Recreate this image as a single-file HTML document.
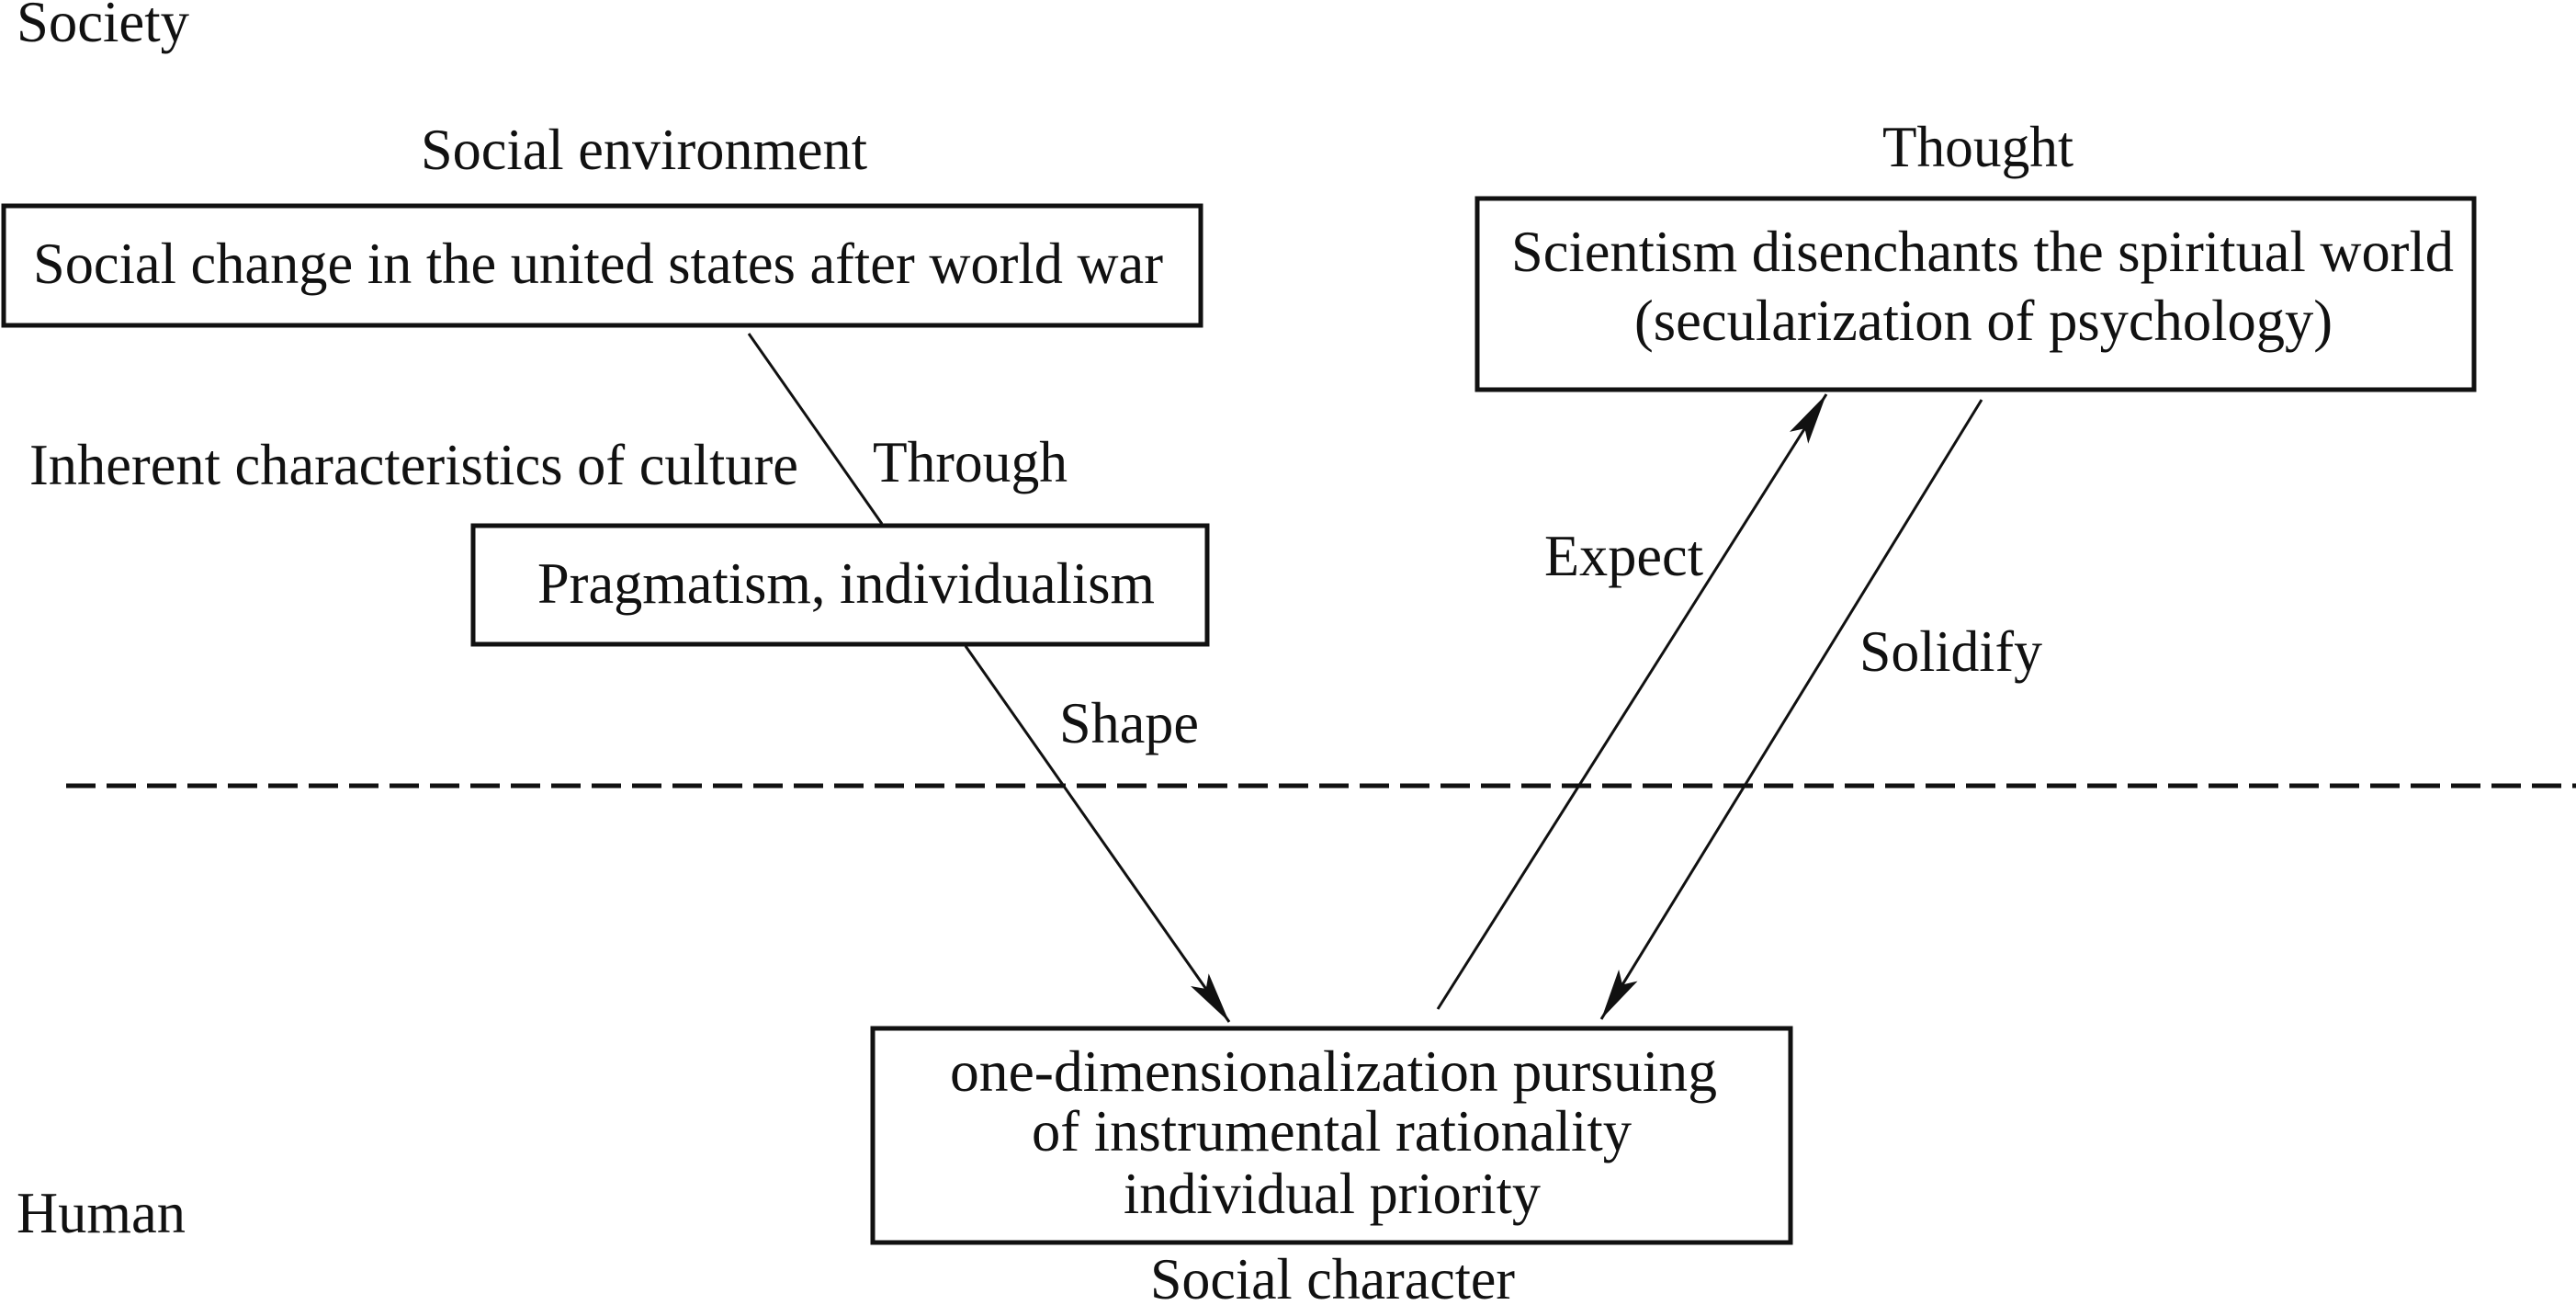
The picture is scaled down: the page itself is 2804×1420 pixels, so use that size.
<!DOCTYPE html>
<html><head><meta charset="utf-8"><style>
html,body{margin:0;padding:0;background:#fff;width:2804px;height:1420px;overflow:hidden}
text{font-family:"Liberation Serif",serif;font-size:64px;fill:#111}
</style></head><body>
<svg width="2804" height="1420" viewBox="0 0 2804 1420" xmlns="http://www.w3.org/2000/svg">
<defs>
<marker id="a" markerWidth="60" markerHeight="26" refX="56" refY="12" orient="auto" markerUnits="userSpaceOnUse">
<path d="M0,0 L56,12 L0,24 L12,12 Z" fill="#111"/>
</marker>
</defs>
<g fill="none" stroke="#111">
<rect x="4" y="224" width="1303" height="130" stroke-width="5"/>
<rect x="1608" y="216" width="1085" height="208" stroke-width="5"/>
<rect x="515" y="572" width="799" height="129" stroke-width="5"/>
<rect x="950" y="1119" width="999" height="233" stroke-width="5"/>
<line x1="72" y1="855" x2="2804" y2="855" stroke-width="5" stroke-dasharray="32,12"/>
<line x1="815" y1="363" x2="960" y2="570" stroke-width="3"/>
<line x1="1051" y1="703" x2="1338" y2="1112" stroke-width="3" marker-end="url(#a)"/>
<line x1="1565" y1="1098" x2="1988" y2="429" stroke-width="3" marker-end="url(#a)"/>
<line x1="2157" y1="435" x2="1743" y2="1109" stroke-width="3" marker-end="url(#a)"/>
</g>
<text x="18" y="45" textLength="188" lengthAdjust="spacingAndGlyphs">Society</text>
<text x="458" y="184" textLength="486" lengthAdjust="spacingAndGlyphs">Social environment</text>
<text x="36" y="308" textLength="1230" lengthAdjust="spacingAndGlyphs">Social change in the united states after world war</text>
<text x="2049" y="181" textLength="208" lengthAdjust="spacingAndGlyphs">Thought</text>
<text x="1645" y="295" textLength="1026" lengthAdjust="spacingAndGlyphs">Scientism disenchants the spiritual world</text>
<text x="1779" y="370" textLength="760" lengthAdjust="spacingAndGlyphs">(secularization of psychology)</text>
<text x="32" y="527" textLength="837" lengthAdjust="spacingAndGlyphs">Inherent characteristics of culture</text>
<text x="950" y="524" textLength="212" lengthAdjust="spacingAndGlyphs">Through</text>
<text x="585" y="656" textLength="672" lengthAdjust="spacingAndGlyphs">Pragmatism, individualism</text>
<text x="1153" y="808" textLength="152" lengthAdjust="spacingAndGlyphs">Shape</text>
<text x="1681" y="626" textLength="173" lengthAdjust="spacingAndGlyphs">Expect</text>
<text x="2024" y="730" textLength="199" lengthAdjust="spacingAndGlyphs">Solidify</text>
<text x="1034" y="1187" textLength="835" lengthAdjust="spacingAndGlyphs">one-dimensionalization  pursuing</text>
<text x="1123" y="1252" textLength="653" lengthAdjust="spacingAndGlyphs">of instrumental rationality</text>
<text x="1223" y="1320" textLength="454" lengthAdjust="spacingAndGlyphs">individual priority</text>
<text x="18" y="1341" textLength="184" lengthAdjust="spacingAndGlyphs">Human</text>
<text x="1252" y="1413" textLength="397" lengthAdjust="spacingAndGlyphs">Social character</text>
</svg>
</body></html>
